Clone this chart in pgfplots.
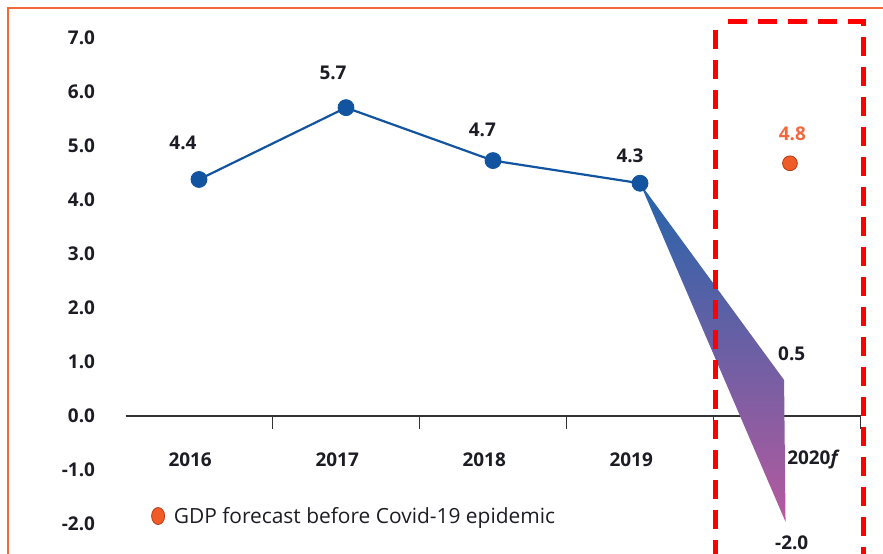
\documentclass[border=0pt]{standalone}
\usepackage{fontspec}
\setmainfont{Open Sans}
\usepackage{pgfplots}
\pgfplotsset{compat=1.18}
\definecolor{lineblue}{RGB}{18,84,160}
\definecolor{fcorange}{RGB}{240,92,40}
\definecolor{fcedge}{RGB}{180,60,25}
\definecolor{lblorange}{RGB}{242,104,60}
\definecolor{frameorange}{RGB}{242,106,58}
\definecolor{shadetop}{RGB}{36,100,170}
\definecolor{shademid}{RGB}{90,99,168}
\definecolor{shadebot}{RGB}{182,90,158}
\definecolor{axisgray}{RGB}{50,50,50}
\definecolor{txt}{RGB}{28,28,36}
\newcommand{\lblfont}{\bfseries\fontsize{19}{22}\selectfont}
\begin{document}
\begin{tikzpicture}[x=1bp,y=1bp]
\begin{axis}[
  at={(199bp,138bp)}, anchor=origin,
  scale only axis, width=735bp, height=550.8bp,
  xmin=-0.5, xmax=4.5, ymin=-2.6, ymax=7.6,
  clip=false,
  axis x line=middle, axis y line=left,
  axis line style={-},
  x axis line style={draw=axisgray, line width=1.6bp},
  y axis line style={draw=none},
  tick align=outside,
  major tick length=13bp,
  ytick={-2,-1,0,1,2,3,4,5,6,7},
  ytick style={draw=none},
  yticklabel style={font=\lblfont, text=txt, anchor=east, xshift=-14bp,
    /pgf/number format/.cd, fixed, fixed zerofill, precision=1, assume math mode=true},
  xtick={-0.5,0.5,1.5,2.5,3.5,4.5},
  xticklabels={},
  xtick style={draw=axisgray, line width=1.6bp},
  extra x ticks={-0.06,0.94,1.94,2.94,4.18},
  extra x tick labels={2016,2017,2018,2019,2020\textit{f}},
  extra x tick style={major tick length=0pt, tick style={draw=none},
    xticklabel style={font=\lblfont, text=txt, anchor=center, yshift=-44bp}},
  legend style={at={(0.0347,0.0733)}, anchor=west, draw=none, fill=none,
    inner sep=0pt, font=\fontsize{21}{25}\selectfont, text=txt},
  legend cell align=left,
]
% range of the 2020 forecast (shaded wedge)
\addplot[draw=none, top color=shadetop, middle color=shademid, bottom color=shadebot, forget plot]
  coordinates {(3,4.31) (3.98,0.667) (3.99,-1.96)} -- cycle;
% actual GDP growth
\addplot[lineblue, line width=2.2bp, mark=*, mark size=8bp,
  mark options={fill=lineblue, draw=lineblue, line width=0.8bp}, forget plot]
  coordinates {(0,4.38) (1,5.71) (2,4.73) (3,4.31)};
% forecast before Covid-19
\addplot[only marks, mark=*, mark size=7.4bp,
  mark options={fill=fcorange, draw=fcedge, line width=0.8bp},
  legend image code/.code={\draw[fill=fcorange, draw=fcedge, line width=0.8bp] (0bp,0bp) ellipse (6.5bp and 8.5bp);
    \path (13.5bp,0bp);}]
  coordinates {(4.02,4.68)};
\addlegendentry{GDP forecast before Covid-19 epidemic}
% data labels
\node[font=\lblfont, text=txt, xshift=-16bp, yshift=36.6bp] at (axis cs:0,4.38) {4.4};
\node[font=\lblfont, text=txt, xshift=-13bp, yshift=35bp] at (axis cs:1,5.71) {5.7};
\node[font=\lblfont, text=txt, xshift=-10.6bp, yshift=30.7bp] at (axis cs:2,4.73) {4.7};
\node[font=\lblfont, text=txt, xshift=-10bp, yshift=27.3bp] at (axis cs:3,4.31) {4.3};
\node[font=\lblfont, text=lblorange, xshift=2.4bp, yshift=29.3bp] at (axis cs:4.02,4.68) {4.8};
\node[font=\lblfont, text=txt] at (axis cs:4.032,1.161) {0.5};
\node[font=\lblfont, text=txt] at (axis cs:4.032,-2.35) {-2.0};
\end{axis}
% outer frame
\draw[frameorange, line width=1.5bp] (8,-5) -- (8,546) -- (890,546);
% red dashed box around the forecast year
\draw[red, line width=5bp, dash pattern=on 19bp off 11bp] (715.7,-5) -- (715.7,532);
\draw[red, line width=5bp, dash pattern=on 19bp off 11bp] (728,532) -- (863.3,532) -- (863.3,-5);
\pgfresetboundingbox
\path[use as bounding box] (0,0) rectangle (883,554);
\end{tikzpicture}
\end{document}
